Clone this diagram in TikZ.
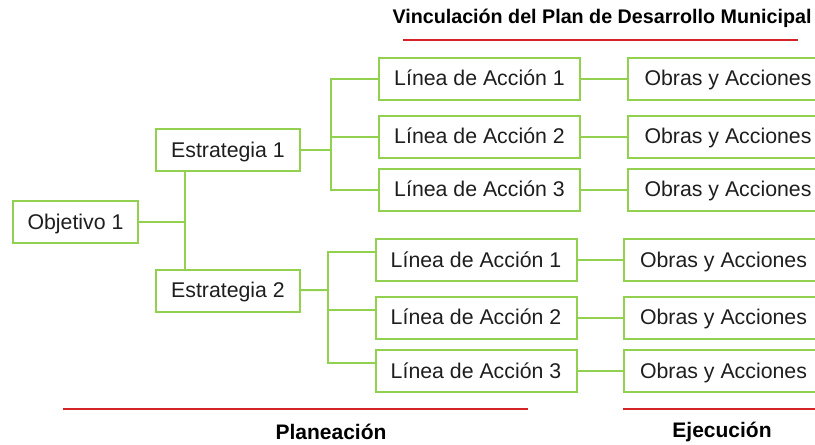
\documentclass[tikz,border=0pt]{standalone}
\usepackage{fontspec}
\setmainfont{Liberation Sans}
\usepackage{tikz}
\usetikzlibrary{positioning}
\usepackage{xcolor}
\definecolor{boxgreen}{RGB}{146,208,80}
\definecolor{linered}{RGB}{212,36,42}
\definecolor{txtgray}{RGB}{30,30,30}

\begin{document}
\begin{tikzpicture}[x=1pt,y=-1pt,line width=2pt,node distance=46pt]
  \tikzstyle{box}=[draw=boxgreen,fill=white,text=txtgray,minimum height=42pt,
                   inner sep=0pt,text height=18pt,text depth=4pt,
                   font=\fontsize{21.3}{25}\selectfont]
  \tikzstyle{estr}=[box,minimum width=144pt]
  \tikzstyle{linea}=[box,minimum width=201pt]
  \tikzstyle{obras}=[box,minimum width=200pt]
  \tikzstyle{conn}=[draw=boxgreen]
  \tikzstyle{redline}=[draw=linered]

  \useasboundingbox (0,0) rectangle (815,445);
  \clip (0,0) rectangle (815,445);

  \node[box,minimum width=125pt] (O1) at (75.5,222) {Objetivo 1};
  \node[estr] (E1) at (228,150) {Estrategia 1};
  \node[estr] (E2) at (228,290.5) {Estrategia 2};

  \node[linea] (L11) at (479.5,78.5)  {Línea de Acción 1};
  \node[linea] (L12) at (479.5,136.5) {Línea de Acción 2};
  \node[linea] (L13) at (479.5,189.5) {Línea de Acción 3};
  \node[linea] (L21) at (476,260)     {Línea de Acción 1};
  \node[linea] (L22) at (476,317.5)   {Línea de Acción 2};
  \node[linea] (L23) at (476,371)     {Línea de Acción 3};

  \node[obras] (A11) [right=of L11] {Obras y Acciones};
  \node[obras] (A12) [right=of L12] {Obras y Acciones};
  \node[obras] (A13) [right=of L13] {Obras y Acciones};
  \node[obras] (A21) [right=45pt of L21] {Obras y Acciones};
  \node[obras] (A22) [right=45pt of L22] {Obras y Acciones};
  \node[obras] (A23) [right=45pt of L23] {Obras y Acciones};

  \node[font=\fontsize{19.7}{23}\selectfont\bfseries] (vinc) at (602,18)
       {Vinculación del Plan de Desarrollo Municipal};
  \node[font=\fontsize{21}{25}\selectfont\bfseries] (plan) at (331,432) {Planeación};
  \node[font=\fontsize{21}{25}\selectfont\bfseries] (ejec) at (722,432) {Ejecución};

  % buses
  \coordinate (b0) at (185,222);
  \coordinate (b1) at (331,150);
  \coordinate (b2) at (328,290);

  \path[conn] (O1) edge (b0)
              (b0 |- E1.south) edge (b0 |- E2.north)
              (E1) edge (b1)
              (E2) edge (b2)
              (L11) edge (A11)
              (L12) edge (A12)
              (L13) edge (A13)
              (L21) edge (A21)
              (L22) edge (A22)
              (L23) edge (A23);

  \draw[conn] (L11) -| (b1) |- (L13);
  \draw[conn] (b1 |- L12) -- (L12);
  \draw[conn] ([yshift=8pt]L21.west) -| (b2) |- ([yshift=8pt]L23.west);
  \draw[conn] ([yshift=8pt]b2 |- L22.west) -- ([yshift=8pt]L22.west);

  % red rules
  \draw[redline] (403,40) -- (798,40);
  \draw[redline] (63,409) -- (528,409);
  \draw[redline] (623,409) -- (815,409);
\end{tikzpicture}
\end{document}
